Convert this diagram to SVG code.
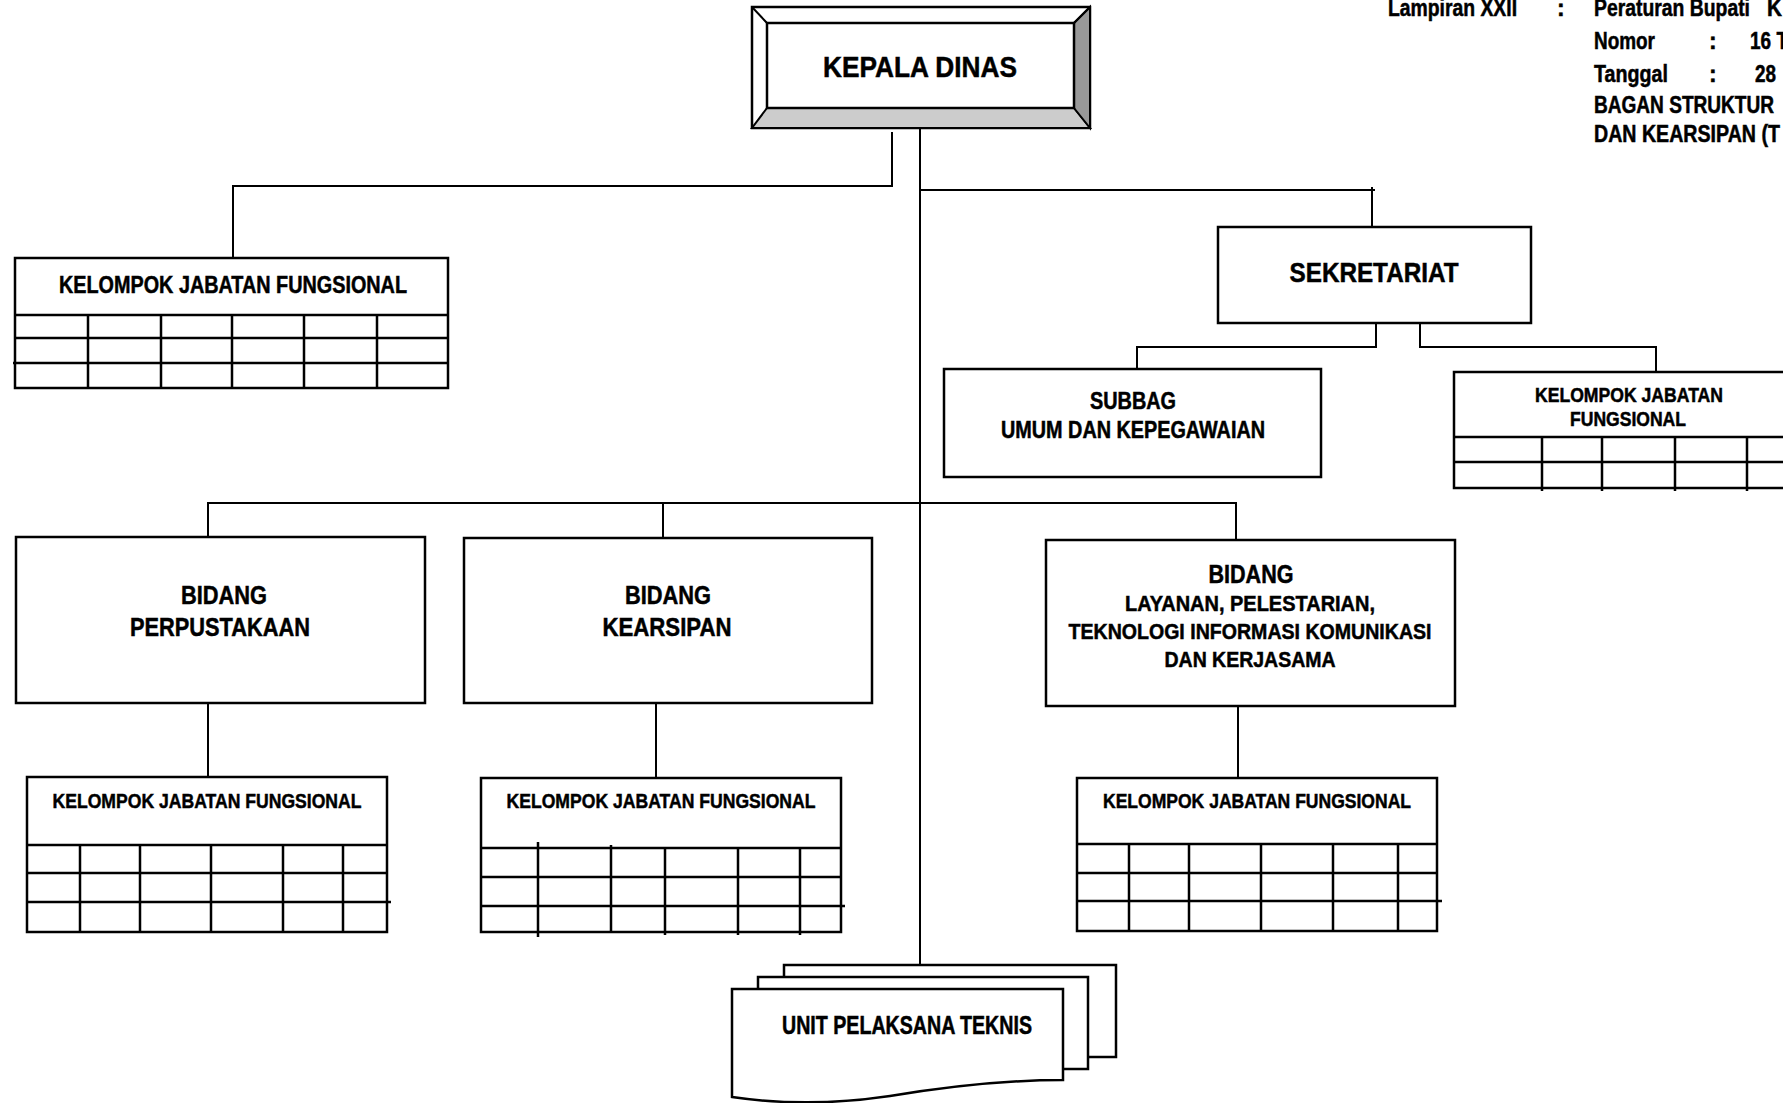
<svg xmlns="http://www.w3.org/2000/svg" width="1783" height="1103" viewBox="0 0 1783 1103">
<style>
.box{fill:#fff;stroke:#000;stroke-width:2.5}
.ln{stroke:#000;stroke-width:2;fill:none}
.g{stroke:#000;stroke-width:2.5;fill:none}
.t{font-family:"Liberation Sans",Arial,sans-serif;font-weight:bold;fill:#000;stroke:#000;stroke-width:0.5}
.c{text-anchor:middle}
</style>
<rect width="1783" height="1103" fill="#fff"/>
<g id="header" class="t" font-size="23">
<text x="1388" y="16" textLength="129" lengthAdjust="spacingAndGlyphs">Lampiran XXII</text>
<text x="1557" y="16">:</text>
<text x="1594" y="16" textLength="156" lengthAdjust="spacingAndGlyphs">Peraturan Bupati</text>
<text x="1767" y="16" textLength="15" lengthAdjust="spacingAndGlyphs">K</text>
<text x="1594" y="49" textLength="61" lengthAdjust="spacingAndGlyphs">Nomor</text>
<text x="1709" y="49">:</text>
<text x="1750" y="49" textLength="38" lengthAdjust="spacingAndGlyphs">16 T</text>
<text x="1594" y="82" textLength="74" lengthAdjust="spacingAndGlyphs">Tanggal</text>
<text x="1709" y="82">:</text>
<text x="1755" y="82" textLength="21" lengthAdjust="spacingAndGlyphs">28</text>
<text x="1594" y="113" textLength="180" lengthAdjust="spacingAndGlyphs">BAGAN STRUKTUR</text>
<text x="1594" y="142" textLength="186" lengthAdjust="spacingAndGlyphs">DAN KEARSIPAN (T</text>
</g>
<g id="connectors" class="ln">
<path d="M892,132 V186 H233 V258"/>
<path d="M920,128 V965"/>
<path d="M920,190 H1375 M1372,187 V227"/>
<path d="M1376,323 V347 H1137 V369"/>
<path d="M1420,323 V347 H1656 V372"/>
<path d="M208,537 V503 H1236 V540"/>
<path d="M663,503 V537"/>
<path d="M208,703 V777"/>
<path d="M656,703 V778"/>
<path d="M1238,706 V778"/>
</g>
<g id="kepala-dinas">
<rect x="752" y="7" width="338" height="121" class="box"/>
<polygon points="752,128 1090,128 1074,108 767,108" fill="#cccccc" stroke="#000" stroke-width="2"/>
<polygon points="1090,7 1090,128 1074,108 1074,23" fill="#999999" stroke="#000" stroke-width="2"/>
<path d="M752,7 L767,23 M1090,7 L1074,23" class="ln"/>
<rect x="767" y="23" width="307" height="85" class="box"/>
<text x="920" y="77" class="t c" font-size="30" textLength="194" lengthAdjust="spacingAndGlyphs">KEPALA DINAS</text>
</g>
<g id="kjf-kepala">
<rect x="15" y="258" width="433" height="130" class="box"/>
<path d="M15,315 H448 M15,338 H448 M13,363 H448 M88,315 V388 M161,315 V388 M232,315 V388 M304,315 V388 M377,315 V388" class="g"/>
<text x="233" y="293" class="t c" font-size="24" textLength="348" lengthAdjust="spacingAndGlyphs">KELOMPOK JABATAN FUNGSIONAL</text>
</g>
<g id="sekretariat">
<rect x="1218" y="227" width="313" height="96" class="box"/>
<text x="1374" y="282" class="t c" font-size="28" textLength="169" lengthAdjust="spacingAndGlyphs">SEKRETARIAT</text>
</g>
<g id="subbag-umum">
<rect x="944" y="369" width="377" height="108" class="box"/>
<text x="1133" y="409" class="t c" font-size="23" textLength="86" lengthAdjust="spacingAndGlyphs">SUBBAG</text>
<text x="1133" y="438" class="t c" font-size="23" textLength="264" lengthAdjust="spacingAndGlyphs">UMUM DAN KEPEGAWAIAN</text>
</g>
<g id="kjf-sekretariat">
<rect x="1454" y="372" width="350" height="116" class="box"/>
<path d="M1454,437 H1790 M1454,462 H1790 M1542,437 V491 M1602,437 V491 M1675,437 V491 M1747,437 V491" class="g"/>
<text x="1629" y="402" class="t c" font-size="20" textLength="188" lengthAdjust="spacingAndGlyphs">KELOMPOK JABATAN</text>
<text x="1628" y="426" class="t c" font-size="20" textLength="116" lengthAdjust="spacingAndGlyphs">FUNGSIONAL</text>
</g>
<g id="bidang-perpustakaan">
<rect x="16" y="537" width="409" height="166" class="box"/>
<text x="224" y="604" class="t c" font-size="26" textLength="86" lengthAdjust="spacingAndGlyphs">BIDANG</text>
<text x="220" y="636" class="t c" font-size="26" textLength="180" lengthAdjust="spacingAndGlyphs">PERPUSTAKAAN</text>
</g>
<g id="bidang-kearsipan">
<rect x="464" y="538" width="408" height="165" class="box"/>
<text x="668" y="604" class="t c" font-size="26" textLength="86" lengthAdjust="spacingAndGlyphs">BIDANG</text>
<text x="667" y="636" class="t c" font-size="26" textLength="129" lengthAdjust="spacingAndGlyphs">KEARSIPAN</text>
</g>
<g id="bidang-layanan">
<rect x="1046" y="540" width="409" height="166" class="box"/>
<text x="1251" y="583" class="t c" font-size="25" textLength="85" lengthAdjust="spacingAndGlyphs">BIDANG</text>
<text x="1250" y="611" class="t c" font-size="22" textLength="250" lengthAdjust="spacingAndGlyphs">LAYANAN, PELESTARIAN,</text>
<text x="1250" y="639" class="t c" font-size="22" textLength="363" lengthAdjust="spacingAndGlyphs">TEKNOLOGI INFORMASI KOMUNIKASI</text>
<text x="1250" y="667" class="t c" font-size="22" textLength="171" lengthAdjust="spacingAndGlyphs">DAN KERJASAMA</text>
</g>
<g id="kjf-perpustakaan">
<rect x="27" y="777" width="360" height="155" class="box"/>
<path d="M27,845 H387 M27,873 H387 M27,902 H391 M80,845 V932 M140,845 V932 M211,845 V932 M283,845 V932 M343,845 V932" class="g"/>
<text x="207" y="808" class="t c" font-size="21" textLength="309" lengthAdjust="spacingAndGlyphs">KELOMPOK JABATAN FUNGSIONAL</text>
</g>
<g id="kjf-kearsipan">
<rect x="481" y="778" width="360" height="154" class="box"/>
<path d="M481,848 H841 M481,877 H841 M481,906 H845 M538,842 V937 M611,845 V932 M665,848 V935 M738,848 V935 M800,848 V935" class="g"/>
<text x="661" y="808" class="t c" font-size="21" textLength="309" lengthAdjust="spacingAndGlyphs">KELOMPOK JABATAN FUNGSIONAL</text>
</g>
<g id="kjf-layanan">
<rect x="1077" y="778" width="360" height="153" class="box"/>
<path d="M1077,844 H1437 M1077,873 H1437 M1077,901 H1442 M1129,844 V931 M1189,844 V931 M1261,844 V931 M1333,844 V931 M1398,844 V931" class="g"/>
<text x="1257" y="808" class="t c" font-size="21" textLength="308" lengthAdjust="spacingAndGlyphs">KELOMPOK JABATAN FUNGSIONAL</text>
</g>
<g id="upt">
<rect x="784" y="965" width="332" height="92" class="box"/>
<rect x="758" y="977" width="330" height="92" class="box"/>
<path d="M732,989 H1063 V1080 C1010,1080 950,1086 890,1096 C830,1105 780,1104 732,1097 Z" class="box"/>
<text x="907" y="1034" class="t c" font-size="25" textLength="250" lengthAdjust="spacingAndGlyphs">UNIT PELAKSANA TEKNIS</text>
</g>
</svg>
